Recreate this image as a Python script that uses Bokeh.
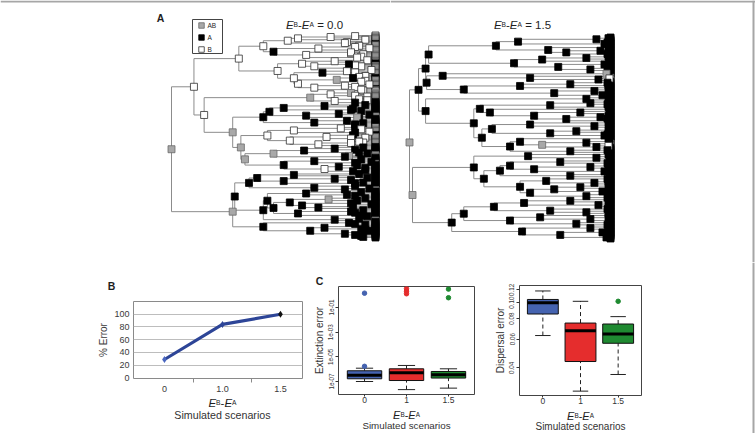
import math
from bokeh.plotting import figure
from bokeh.layouts import row, column
from bokeh.models import Range1d, FixedTicker, Label
from bokeh.embed import file_html
from bokeh.resources import INLINE

# ======================= DATA =======================
state_codes = ["G", "K", "W"]          # G = AB (grey), K = A (black), W = B (white)
state_names = ["AB", "A", "B"]

# Panel A, left tree (EB-EA = 0.0): time of the node joining each pair of adjacent tips
# (0 = root, 1 = present), read top to bottom
tree0_label = "0.0"
tree0_times = [0.78, 0.62, 0.57, 0.85, 0.45, 0.9, 0.72, 0.5, 0.88, 0.66, 0.93, 0.33,
               0.8, 0.64, 0.9, 0.7, 0.52, 0.86, 0.74, 0.6, 0.92, 0.81, 0.95, 0.62,
               0.85, 0.7, 0.93, 0.11, 0.78, 0.9, 0.68, 0.96, 0.8, 0.16,
               0.75, 0.55, 0.88, 0.48, 0.82, 0.66, 0.92, 0.45, 0.7, 0.9, 0.30,
               0.83, 0.6, 0.9, 0.47, 0.76, 0.88, 0.58, 0.94, 0.72, 0.34,
               0.8, 0.65, 0.92, 0.5, 0.85, 0.36, 0.7, 0.9, 0.55, 0.82, 0.75, 0.95, 0.0,
               0.6, 0.42, 0.8, 0.55, 0.9, 0.38, 0.7, 0.85, 0.31, 0.66, 0.9, 0.47, 0.77, 0.58, 0.88, 0.64,
               0.72, 0.5, 0.88, 0.62, 0.93, 0.45, 0.8, 0.30, 0.9, 0.45, 0.75, 0.95, 0.68, 0.85, 0.93]
# time at which each tip splits into a recent cherry (0 = no split)
tree0_cherry = [0.9, 0, 0.95, 0.86, 0, 0.92, 0.97, 0, 0.88, 0.94, 0, 0.91, 0.96, 0, 0.87, 0.93, 0, 0.98, 0.9, 0, 0.95, 0.89, 0, 0.93,
                0.97, 0.9, 0, 0.94, 0.88, 0, 0.96, 0.92, 0, 0.9,
                0.95, 0, 0.89, 0.93, 0, 0.97, 0.91, 0, 0.86, 0.94, 0.9,
                0, 0.93, 0.97, 0, 0.89, 0.95, 0, 0.92, 0.88, 0,
                0.94, 0.9, 0, 0.96, 0.87, 0, 0.93, 0.98, 0, 0.91, 0.95, 0, 0.89,
                0.92, 0, 0.96, 0.88, 0.94, 0, 0.9, 0.97, 0, 0.93, 0.86, 0, 0.95, 0.91, 0, 0.98,
                0.89, 0, 0.94, 0.9, 0, 0.96, 0.92, 0, 0.87, 0.95, 0, 0.93, 0.97, 0, 0.9, 0.94]
tree0_node_states = ("WWWW W WWKWWW W WWWWWWKWWGW W WWWWWWGWW W KKKKKKKKKK G WWKWWWWWW G "
                     "KKKGKGKKKKWK G KKKKKKKKKKKKGKK K KKKKKKKGKKKKKKK").replace(" ", "")
tree0_tip_states = ("WWWWKWWWWWWWWWKWWWWWWKWW WWKWGWWWWK KKKKKKGKKKK WWWWKWWWWW KKKKGKKKWKKKK "
                    "KKKKKKKKGKKKKKKKKKKKKKKGKKKKKKKK").replace(" ", "")

# Panel A, right tree (EB-EA = 1.5)
tree15_label = "1.5"
tree15_times = [0.93, 0.54, 0.97, 0.43, 0.69, 0.95, 0.78, 0.095,
                0.88, 0.66, 0.52, 0.97, 0.74, 0.9, 0.08,
                0.98, 0.165, 0.6, 0.94, 0.085,
                0.8, 0.55, 0.27, 0.92, 0.72, 0.96, 0.045,
                0.88, 0.08,
                0.9, 0.7, 0.35, 0.4, 0.85, 0.62, 0.95, 0.78, 0.32,
                0.6, 0.92, 0.41, 0.83, 0.7, 0.97, 0.36, 0.55, 0.88, 0.66, 0.93, 0.5, 0.8, 0.0,
                0.59, 0.93, 0.32,
                0.75, 0.5, 0.9, 0.62, 0.97, 0.45, 0.8, 0.37, 0.68, 0.92, 0.55, 0.85, 0.72, 0.96, 0.6, 0.88, 0.015,
                0.8, 0.57, 0.94, 0.42, 0.7, 0.88, 0.27, 0.65, 0.9, 0.5, 0.83, 0.21,
                0.9, 0.56, 0.96, 0.75, 0.98]
tree15_cherry = [0.99, 0, 0.985, 0.995, 0, 0.99, 0, 0.985, 0.99, 0, 0.995, 0, 0.99, 0.985, 0,
                 0.99, 0, 0, 0.995, 0, 0.985, 0.99, 0, 0.99, 0, 0.995, 0,
                 0, 0.99, 0, 0.985, 0.99, 0, 0.995, 0, 0.99, 0.985, 0, 0.99, 0, 0.995, 0.99, 0, 0.985, 0, 0.99, 0.995, 0, 0.99, 0, 0.985, 0,
                 0.99, 0, 0.995, 0, 0.985, 0.99, 0, 0.99, 0, 0.995, 0, 0.985, 0.99, 0, 0.99, 0, 0.995, 0, 0.99, 0.985,
                 0, 0.99, 0, 0.995, 0.985, 0, 0.99, 0, 0.99, 0.995, 0, 0.985, 0, 0.99, 0, 0.995, 0.99, 0]
tree15_node_states = ("KKKKKKK K KKKKKK K GKKK K KKKKKK K K K KKKKKKKK K KKKKKKKKKGKKK G KK K "
                      "KKKKKKKKKKKKKKKK G KKKKKKKKKKK K KKKKK").replace(" ", "")
tree15_tip_states = ("KKKKKKKKKKKKKKKKKK WG KKKKKKKKKKKKKKKKKKKKKKKKKKK GW "
                     "KKKKKKKKKKKKKKKKKKKKKKKKKKKKKKKKKKKKKKKKK").replace(" ", "")

# Panel B
scenarios_b = ["0", "1.0", "1.5"]
pct_error = [29, 84, 100]

# Panels C and D (box plots)
scenarios_cd = ["0", "1", "1.5"]
box_colors = ["#4563b0", "#e52d2d", "#1f8a31"]
ext_low = [1.0e-7, 2.2e-8, 2.9e-8]
ext_q1 = [1.66e-7, 1.2e-7, 1.9e-7]
ext_med = [3.2e-7, 5.1e-7, 3.5e-7]
ext_q3 = [7.4e-7, 1.07e-6, 6.5e-7]
ext_high = [1.2e-6, 2.0e-6, 1.07e-6]
ext_out_group = [0, 0, 1, 1, 1, 2, 2]
ext_out_value = [1.45, 1.7e-6, 3.3, 2.1, 1.3, 3.1, 0.62]

disp_low = [0.063, 0.0288, 0.0364]
disp_q1 = [0.0853, 0.0437, 0.0565]
disp_med = [0.0999, 0.0675, 0.0644]
disp_q3 = [0.1047, 0.0751, 0.0741]
disp_high = [0.118, 0.102, 0.0822]
disp_out_group = [2]
disp_out_value = [0.102]

# ======================= STYLE / LAYOUT =======================
FONT = "Liberation Sans"
TEXT = "#1e1e1e"
FRAME_GREY = "#a6a6a6"
PAGE_W = 755
TREE_H = 262
BOT_TOP = TREE_H
BOT_H = 171
RIGHT_LINE_X = 753
fill_map = {"G": "#a8a8a8", "K": "#000000", "W": "#ffffff"}
line_map = {"G": "#6a6a6a", "K": "#000000", "W": "#303030"}
W_EM = {"E": .667, "B": .667, "A": .667, "-": .333, " ": .278, "=": .584,
        "0": .556, "1": .556, "5": .556, ".": .278}


def no_align(p):
    try:
        p.frame_align = False
    except Exception:
        pass
    return p


def base_fig(width, height, xr, yr, **kw):
    p = figure(width=width, height=height, x_range=Range1d(*xr), y_range=Range1d(*yr),
               toolbar_location=None, output_backend="svg",
               background_fill_color="white", border_fill_color="white", **kw)
    return no_align(p)


def strip(width, height, xr):
    # a text strip whose frame is the whole canvas; y is measured in px from its top
    return base_fig(width, height, xr, (height, 0), x_axis_type=None, y_axis_type=None,
                    min_border=0, outline_line_color=None)


def lin_map(frame_l, frame_r, xr):
    return lambda px: xr[0] + (px - frame_l) / (frame_r - frame_l) * (xr[1] - xr[0])


def add_label(p, x, y, text, size, style="normal", align="center", baseline="middle",
              color=TEXT, x_offset=0):
    p.add_layout(Label(x=x, y=y, text=text, text_font=FONT, text_font_size=f"{size}px",
                       text_font_style=style, text_align=align, text_baseline=baseline,
                       text_color=color, x_offset=x_offset))


def eb_ea(p, x, y, size, suffix="", color=TEXT, ratio=0.58):
    small = round(size * ratio, 2)
    parts = [("E", size, "italic"), ("B", small, "normal"), ("-", size, "normal"),
             ("E", size, "italic"), ("A", small, "normal")]
    if suffix:
        parts.append((" = " + suffix, size, "normal"))
    widths = [sum(W_EM[c] for c in t) * s for t, s, _ in parts]
    off = -sum(widths) / 2
    for (t, s, st), w in zip(parts, widths):
        lead = (len(t) - len(t.lstrip(" "))) * W_EM[" "] * s
        add_label(p, x, y, t.strip(), s, st, "left", "alphabetic", color=color, x_offset=off + lead)
        off += w


def expand(times, cherry, node_states, tip_states):
    t2, ns2, ts2 = [], "", ""
    for i, c in enumerate(cherry):
        if c > 0:
            t2.append(c); ns2 += tip_states[i]; ts2 += tip_states[i] * 2
        else:
            ts2 += tip_states[i]
        if i < len(times):
            t2.append(times[i]); ns2 += node_states[i]
    return t2, ns2, ts2


def tree_panel(times, cherry, node_states, tip_states, page_left, width, root_px, tip_px, top_px, bot_px):
    times, node_states, tip_states = expand(times, cherry, node_states, tip_states)
    n = len(tip_states)
    frame = (page_left, page_left + width, 0, TREE_H)
    sx = tip_px - root_px
    sy = (bot_px - top_px) / (n - 1)
    xr = ((frame[0] - root_px) / sx, (frame[1] - root_px) / sx)
    yr = ((frame[3] - top_px) / sy, (frame[2] - top_px) / sy)
    p = base_fig(width, TREE_H, xr, yr, x_axis_type=None, y_axis_type=None,
                 min_border=0, outline_line_color=None)
    seg = {"x0": [], "y0": [], "x1": [], "y1": []}
    tips = {"x": [], "y": [], "s": []}
    inner = {"x": [], "y": [], "s": []}

    def add_seg(a, b, c, d):
        seg["x0"].append(a); seg["y0"].append(b); seg["x1"].append(c); seg["y1"].append(d)

    def rec(lo, hi):
        if lo == hi:
            tips["x"].append(1.0); tips["y"].append(float(lo)); tips["s"].append(tip_states[lo])
            return 1.0, float(lo)
        k = min(range(lo, hi), key=lambda i: times[i])
        xa, ya = rec(lo, k)
        xb, yb = rec(k + 1, hi)
        t = times[k]
        add_seg(t, ya, t, yb)
        add_seg(t, ya, xa, ya)
        add_seg(t, yb, xb, yb)
        y = (ya + yb) / 2
        inner["x"].append(t); inner["y"].append(y); inner["s"].append(node_states[k])
        return t, y

    rec(0, n - 1)
    p.segment(seg["x0"], seg["y0"], seg["x1"], seg["y1"], line_color="#8c8c8c", line_width=1)
    for d in (tips, inner):
        p.scatter(d["x"], d["y"], marker="square", size=7,
                  fill_color=[fill_map[s] for s in d["s"]],
                  line_color=[line_map[s] for s in d["s"]], line_width=0.8)
    to_x = lin_map(frame[0], frame[1], xr)
    to_y = lambda py: yr[1] + (py - frame[2]) / (frame[3] - frame[2]) * (yr[0] - yr[1])
    # outer frame: top rule
    p.segment([to_x(frame[0])], [to_y(1)], [to_x(frame[1])], [to_y(1)],
              line_color=FRAME_GREY, line_width=2)
    return p, to_x, to_y


# ---------------- Panel A ----------------
pa, ax, ay = tree_panel(tree0_times, tree0_cherry, tree0_node_states, tree0_tip_states,
                        0, 390, 171, 375, 35, 237)
eb_ea(pa, ax(314), ay(24), 11.5, tree0_label)
add_label(pa, ax(160), ay(17), "A", 10.5, "bold")
# legend box (drawn below its squares)
pa.quad(left=[ax(192)], right=[ax(222)], top=[ay(19)], bottom=[ay(53)],
        fill_color="white", line_color="#444444", line_width=1)
leg_y = [ay(25 + 12 * i) for i in range(len(state_codes))]
pa.scatter([ax(201)] * len(state_codes), leg_y, marker="square", size=5.5,
           fill_color=[fill_map[c] for c in state_codes],
           line_color=[line_map[c] for c in state_codes], line_width=0.8)
for ty_, name in zip(leg_y, state_names):
    add_label(pa, ax(207), ty_, name, 6.5, align="left")

pa2, ax2, ay2 = tree_panel(tree15_times, tree15_cherry, tree15_node_states, tree15_tip_states,
                           390, PAGE_W - 390, 409, 610, 37, 238)
eb_ea(pa2, ax2(522), ay2(24), 11.5, tree15_label)
pa2.segment([ax2(RIGHT_LINE_X)], [ay2(0)], [ax2(RIGHT_LINE_X)], [ay2(TREE_H)],
            line_color=FRAME_GREY, line_width=2)

# ---------------- Panel B ----------------
b_frame = (133, 302, 301, 380)
b_xr = (-0.534, 2.38)
b_yr = (-0.8, 120)
bx = lin_map(b_frame[0], b_frame[1], b_xr)
B_HEAD, B_CHART_TOP, B_CHART_BOT = 30, BOT_TOP + 30, 394
pb = base_fig(310, B_CHART_BOT - B_CHART_TOP, b_xr, b_yr, min_border_left=133, min_border_right=8,
              min_border_top=b_frame[2] - B_CHART_TOP, min_border_bottom=B_CHART_BOT - b_frame[3])
pb.outline_line_color = "#8a8a8a"
xb = list(range(len(scenarios_b)))
pb.xaxis.ticker = FixedTicker(ticks=xb, minor_ticks=[0.5, 1.5])
pb.xaxis.major_label_overrides = {i: s for i, s in enumerate(scenarios_b)}
pb.xaxis.major_tick_out = 0
pb.xaxis.major_tick_in = 0
pb.xaxis.minor_tick_out = 4
pb.xaxis.minor_tick_in = 0
pb.xaxis.minor_tick_line_color = "#8a8a8a"
pb.yaxis.ticker = FixedTicker(ticks=[0, 20, 40, 60, 80, 100])
pb.yaxis.major_tick_out = 0
pb.yaxis.major_tick_in = 0
pb.yaxis.minor_tick_line_color = None
pb.axis.axis_line_color = None
pb.axis.major_label_text_font = FONT
pb.axis.major_label_text_font_size = "9px"
pb.axis.major_label_text_color = "#3a3a3a"
pb.xaxis.major_label_standoff = 3
pb.yaxis.major_label_standoff = 4
pb.yaxis.axis_label = "% Error"
pb.yaxis.axis_label_text_font = FONT
pb.yaxis.axis_label_text_font_size = "10px"
pb.yaxis.axis_label_text_font_style = "normal"
pb.yaxis.axis_label_text_color = "#3a3a3a"
pb.yaxis.axis_label_standoff = 2
pb.xgrid.visible = False
pb.ygrid.ticker = FixedTicker(ticks=[20, 40, 60, 80, 100])
pb.ygrid.grid_line_color = "#bdbdbd"
pb.line(xb, pct_error, line_color="#2d4597", line_width=3.2)
pb.scatter(xb, pct_error, marker="diamond", size=7,
           fill_color=["#4a67c0", "#2d4597", "#111111"], line_color=None)

b_head = strip(310, B_HEAD, (0, 310))
add_label(b_head, 111, 285 - BOT_TOP, "B", 10.5, "bold")
b_text = strip(310, BOT_TOP + BOT_H - B_CHART_BOT, (bx(0), bx(310)))
eb_ea(b_text, 1, 402 - B_CHART_BOT, 11.5)
add_label(b_text, 1, 414.5 - B_CHART_BOT, "Simulated scenarios", 10.7, color="#333333")


# ---------------- Panels C, D ----------------
def log_range(v1, py1, v2, py2, top, bottom):
    per = (py1 - py2) / (math.log10(v2) - math.log10(v1))
    return (10 ** (math.log10(v1) - (bottom - py1) / per), 10 ** (math.log10(v1) + (py1 - top) / per))


def box_panel(width, page_left, chart_top, chart_bot, frame, xr, yr, low, q1, med, q3, high, og, ov,
              ticks, tick_labels, ylabel):
    p = base_fig(width, chart_bot - chart_top, xr, yr, y_axis_type="log",
                 min_border_left=frame[0] - page_left,
                 min_border_right=page_left + width - frame[1],
                 min_border_top=frame[2] - chart_top,
                 min_border_bottom=chart_bot - frame[3])
    p.outline_line_color = "#444444"
    p.grid.visible = False
    xs = [i + 1 for i in range(len(med))]
    hw, cw = 0.41, 0.205
    p.segment(xs, q3, xs, high, line_color="#222222", line_width=1, line_dash="4 3")
    p.segment(xs, low, xs, q1, line_color="#222222", line_width=1, line_dash="4 3")
    p.segment([v - cw for v in xs], high, [v + cw for v in xs], high, line_color="#222222", line_width=1)
    p.segment([v - cw for v in xs], low, [v + cw for v in xs], low, line_color="#222222", line_width=1)
    p.vbar(x=xs, bottom=q1, top=q3, width=2 * hw, fill_color=box_colors,
           line_color="#111111", line_width=1)
    p.segment([v - hw for v in xs], med, [v + hw for v in xs], med, line_color="black", line_width=3)
    p.scatter([g + 1 for g in og], ov, marker="circle", size=4.5,
              fill_color=[box_colors[g] for g in og], line_color=[box_colors[g] for g in og])
    p.xaxis.ticker = FixedTicker(ticks=xs)
    p.xaxis.major_label_overrides = {v: s for v, s in zip(xs, scenarios_cd)}
    p.yaxis.ticker = FixedTicker(ticks=ticks)
    p.yaxis.major_label_overrides = {t: s for t, s in zip(ticks, tick_labels)}
    p.yaxis.major_label_orientation = "vertical"
    p.axis.axis_line_color = None
    p.axis.major_tick_in = 0
    p.axis.minor_tick_line_color = None
    p.axis.major_tick_line_color = "#333333"
    p.axis.major_label_text_font = FONT
    p.axis.major_label_text_color = "#333333"
    p.xaxis.major_tick_out = 2
    p.yaxis.major_tick_out = 3
    p.xaxis.major_label_text_font_size = "8.5px"
    p.yaxis.major_label_text_font_size = "6.3px"
    p.xaxis.major_label_standoff = 0
    p.yaxis.major_label_standoff = 2
    p.yaxis.axis_label = ylabel
    p.yaxis.axis_label_text_font = FONT
    p.yaxis.axis_label_text_font_size = "10px"
    p.yaxis.axis_label_text_font_style = "normal"
    p.yaxis.axis_label_text_color = "#333333"
    p.yaxis.axis_label_standoff = 1
    return p


# C: extinction error
C_LEFT, C_W, C_HEAD, C_CHART_BOT = 310, 170, 24, 406
c_frame = (338, 474, BOT_TOP + C_HEAD, 394)
c_xr = (0.38, 3.62)
c_yr = log_range(1e-7, 381, 1e-1, 307, c_frame[2], c_frame[3])
cx = lin_map(c_frame[0], c_frame[1], c_xr)
pc = box_panel(C_W, C_LEFT, BOT_TOP + C_HEAD, C_CHART_BOT, c_frame, c_xr, c_yr,
               ext_low, ext_q1, ext_med, ext_q3, ext_high, ext_out_group, ext_out_value,
               [1e-7, 1e-5, 1e-3, 1e-1], ["1e-07", "1e-05", "1e-03", "1e-01"], "Extinction error")
c_head = strip(C_W, C_HEAD, (C_LEFT, C_LEFT + C_W))
add_label(c_head, 319, 280 - BOT_TOP, "C", 10.5, "bold")
c_text = strip(C_W, BOT_TOP + BOT_H - C_CHART_BOT, (cx(C_LEFT), cx(C_LEFT + C_W)))
eb_ea(c_text, 2, 414 - C_CHART_BOT, 11)
add_label(c_text, 2, 425 - C_CHART_BOT, "Simulated scenarios", 9.8, color="#333333")

# D: dispersal error
D_LEFT, D_W, D_CHART_BOT = 480, 263, 407
RS_LEFT, RS_W = D_LEFT + D_W, PAGE_W - D_LEFT - D_W
d_frame = (519, 641, 285, 395)
d_xr = (0.38, 3.62)
d_yr = log_range(0.04, 367.3, 0.06, 338.5, d_frame[2], d_frame[3])
dx = lin_map(d_frame[0], d_frame[1], d_xr)
pd_ = box_panel(D_W, D_LEFT, BOT_TOP, D_CHART_BOT, d_frame, d_xr, d_yr,
                disp_low, disp_q1, disp_med, disp_q3, disp_high, disp_out_group, disp_out_value,
                [0.04, 0.06, 0.08, 0.10, 0.12], ["0.04", "0.06", "0.08", "0.10", "0.12"], "Dispersal error")
d_text = strip(D_W, BOT_TOP + BOT_H - D_CHART_BOT, (dx(D_LEFT), dx(D_LEFT + D_W)))
eb_ea(d_text, 2, 415 - D_CHART_BOT, 11)
add_label(d_text, 2, 426 - D_CHART_BOT, "Simulated scenarios", 10, color="#333333")

# right-hand rule of the outer frame, next to the lower panels
r_strip = strip(RS_W, BOT_H, (RS_LEFT, PAGE_W))
r_strip.segment([RIGHT_LINE_X], [0], [RIGHT_LINE_X], [BOT_H], line_color=FRAME_GREY, line_width=2)

layout = column(
    row(pa, pa2),
    row(column(b_head, pb, b_text), column(c_head, pc, c_text), column(pd_, d_text), r_strip))
open("out.html", "w").write(file_html(layout, INLINE))
